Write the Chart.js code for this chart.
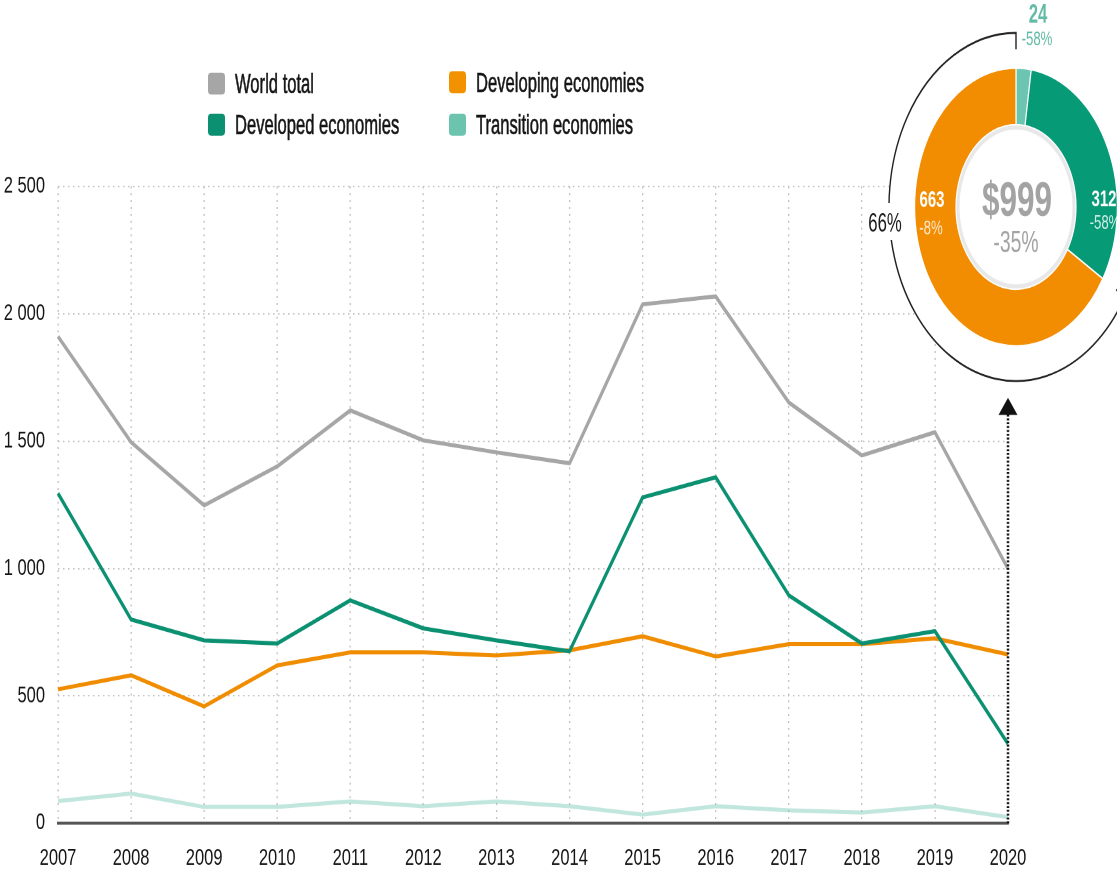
<!DOCTYPE html>
<html>
<head>
<meta charset="utf-8">
<title>FDI flows 2007-2020</title>
<script src="https://cdn.jsdelivr.net/npm/chart.js@4.4.1/dist/chart.umd.min.js"></script>
<style>
    html, body { margin: 0; padding: 0; background: #fff; overflow: hidden; width: 1117px; height: 873px; }
    /* the reference is stretched vertically, so everything is drawn flat and then scaled */
    #stage { position: absolute; left: 0; top: 0; width: 1117px; height: 637px; transform: scaleY(1.3705); transform-origin: 0 0; }
    #main { position: absolute; left: 0; top: 0; }
    #donut { position: absolute; left: 866px; top: 1px; }
    .key { position: absolute; display: flex; align-items: center; font-family: 'Liberation Sans Narrow', 'Arial Narrow', 'Nimbus Sans Narrow', 'Liberation Sans', sans-serif; font-size: 20px; color: #151515; white-space: nowrap; }
    .key span.box { display: inline-block; width: 17px; height: 16px; border-radius: 3px; margin-right: 10px; }
    .key span.txt { display: inline-block; transform: scaleX(0.83); transform-origin: 0 50%; -webkit-text-stroke: 0.45px #151515; }
</style>
</head>
<body>
<div id="stage">
    <canvas id="main" width="1117" height="637"></canvas>
    <canvas id="donut" width="300" height="300"></canvas>
</div>
<script>
const FONT = "'Liberation Sans Narrow', 'Arial Narrow', 'Nimbus Sans Narrow', 'Liberation Sans', sans-serif";

// Data (USD billions)
const years = ['2007', '2008', '2009', '2010', '2011', '2012', '2013', '2014', '2015', '2016', '2017', '2018', '2019', '2020'];
const worldTotal = [1911, 1496, 1248, 1401, 1621, 1503, 1456, 1413, 2037, 2068, 1652, 1444, 1535, 999];
const developed = [1295, 800, 718, 706, 875, 765, 718, 675, 1279, 1358, 895, 706, 754, 312];
const developing = [526, 581, 459, 620, 671, 671, 659, 679, 734, 655, 703, 703, 726, 663];
const transition = [87, 117, 64, 64, 86, 67, 86, 67, 34, 67, 51, 42, 67, 24];
const yTicks = [0, 500, 1000, 1500, 2000, 2500];

// 2020 breakdown shown in the ring
const changeTotal = '-35%';
const changeDeveloped = '-58%';
const changeDeveloping = '-8%';
const changeTransition = '-58%';
const developingShare = '66%';

const seriesNames = ['World total', 'Developed economies', 'Developing economies', 'Transition economies'];
const lineColors = ['#a6a6a6', '#0b9171', '#f08c00', 'rgba(108,196,174,0.42)'];
const keyColors = ['#a6a6a6', '#0b9171', '#f39200', '#6cc4ae'];
const ringColors = ['#6cc5b0', '#079a77', '#f28c00'];

const arrowTipValue = 1670;

// Legend (2 x 2)
const keySlots = [{ left: 208, top: 61 }, { left: 208, top: 91 }, { left: 449, top: 60 }, { left: 449, top: 91 }];
const stage = document.getElementById('stage');
seriesNames.forEach((name, i) => {
    const el = document.createElement('div');
    el.className = 'key';
    el.style.left = keySlots[i].left + 'px';
    el.style.top = (keySlots[i].top - 12) + 'px';
    el.style.height = '24px';
    el.innerHTML = '<span class="box" style="background:' + keyColors[i] + '"></span><span class="txt">' + name + '</span>';
    stage.appendChild(el);
});

function fmt(v) {
    if (v >= 1000) return Math.floor(v / 1000) + ' ' + String(v % 1000).padStart(3, '0');
    return String(v);
}

// condensed text helper for the ring labels
function narrowText(ctx, text, x, y, sx) {
    ctx.save();
    ctx.translate(x, y);
    ctx.scale(sx, 1);
    ctx.fillText(text, 0, 0);
    ctx.restore();
}

// dotted arrow up from 2020 to the ring
const arrowPlugin = {
    id: 'arrow',
    afterDatasetsDraw(chart) {
        const { ctx, scales: { x, y } } = chart;
        const px = x.getPixelForValue(years.length - 1);
        const tip = y.getPixelForValue(arrowTipValue);
        ctx.save();
        ctx.strokeStyle = '#111';
        ctx.lineWidth = 2.5;
        ctx.setLineDash([1.4, 1.4]);
        ctx.beginPath();
        ctx.moveTo(px, y.bottom);
        ctx.lineTo(px, tip + 12);
        ctx.stroke();
        ctx.setLineDash([]);
        ctx.fillStyle = '#111';
        ctx.beginPath();
        ctx.moveTo(px, tip);
        ctx.lineTo(px - 9.5, tip + 12.5);
        ctx.lineTo(px + 9.5, tip + 12.5);
        ctx.closePath();
        ctx.fill();
        ctx.restore();
    }
};

const series = [worldTotal, developed, developing, transition];

new Chart(document.getElementById('main'), {
    type: 'line',
    data: {
        labels: years,
        datasets: series.map((d, i) => ({
            label: seriesNames[i],
            data: d,
            borderColor: lineColors[i],
            borderWidth: 3,
            tension: 0,
            pointRadius: 0,
            borderJoinStyle: 'round',
            fill: false
        }))
    },
    options: {
        responsive: false,
        devicePixelRatio: 2,
        animation: false,
        events: [],
        layout: { padding: { top: 136, right: 109, left: 0, bottom: 0 } },
        plugins: { legend: { display: false }, tooltip: { enabled: false } },
        scales: {
            x: {
                grid: {
                    drawTicks: false,
                    color: c => c.index === years.length - 1 ? 'rgba(0,0,0,0)' : '#c2c2c2',
                    lineWidth: 1.3
                },
                border: { display: true, color: '#555', width: 2.2, dash: [1.5, 3.5] },
                ticks: { font: { family: FONT, size: 16.5 }, color: '#151515', padding: 16, maxRotation: 0 },
                afterFit: s => { s.height = 36.3; }
            },
            y: {
                min: 0,
                max: 2500,
                afterBuildTicks: s => { s.ticks = yTicks.map(v => ({ value: v })); },
                grid: {
                    drawTicks: false,
                    color: c => c.tick.value === 0 ? 'rgba(0,0,0,0)' : '#c2c2c2',
                    lineWidth: 1.1
                },
                border: { display: false, dash: [1.5, 3.5] },
                ticks: { font: { family: FONT, size: 16.5 }, color: '#151515', padding: 13, callback: v => fmt(v) },
                afterFit: s => { s.width = 58; }
            }
        }
    },
    plugins: [arrowPlugin]
});

// Ring for 2020
const last = years.length - 1;
const ringValues = [transition[last], developed[last], developing[last]];

const ringDecor = {
    id: 'ringDecor',
    beforeDatasetsDraw(chart) {
        const ctx = chart.ctx;
        const meta = chart.getDatasetMeta(0);
        const cx = meta.data[0].x, cy = meta.data[0].y;
        const dev = meta.data[2];
        const R = 127;
        ctx.save();
        // white cover so the grid does not show through
        ctx.fillStyle = '#fff';
        ctx.beginPath();
        ctx.arc(cx, cy, R + 1, 0, Math.PI * 2);
        ctx.fill();
        // bracket round the developing share
        ctx.strokeStyle = '#222';
        ctx.lineWidth = 1.4;
        ctx.beginPath();
        ctx.moveTo(cx + (R - 10) * Math.cos(dev.startAngle), cy + (R - 10) * Math.sin(dev.startAngle));
        ctx.lineTo(cx + R * Math.cos(dev.startAngle), cy + R * Math.sin(dev.startAngle));
        ctx.arc(cx, cy, R, dev.startAngle, dev.endAngle, false);
        ctx.lineTo(cx + (R - 12) * Math.cos(dev.endAngle), cy + (R - 12) * Math.sin(dev.endAngle));
        ctx.stroke();
        // share label sitting on the bracket
        ctx.fillStyle = '#fff';
        ctx.fillRect(cx - 148, cy - 3, 34, 27);
        ctx.fillStyle = '#1a1a1a';
        ctx.font = '19px ' + FONT;
        ctx.textAlign = 'center';
        ctx.textBaseline = 'middle';
        narrowText(ctx, developingShare, cx - 131, cy + 13, 0.88);
        ctx.restore();
    },
    afterDatasetsDraw(chart) {
        const ctx = chart.ctx;
        const meta = chart.getDatasetMeta(0);
        const a = meta.data[0];
        const cx = a.x, cy = a.y;
        ctx.save();
        // soft inner ring
        ctx.strokeStyle = 'rgba(0,0,0,0.09)';
        ctx.lineWidth = 3;
        ctx.beginPath();
        ctx.arc(cx, cy, a.innerRadius - 2, 0, Math.PI * 2);
        ctx.stroke();

        ctx.textAlign = 'center';
        ctx.textBaseline = 'middle';
        ctx.fillStyle = '#a3a3a3';
        ctx.font = 'bold 35px ' + FONT;
        narrowText(ctx, '$' + worldTotal[last], cx + 1, cy - 3, 0.9);
        ctx.font = '22px ' + FONT;
        narrowText(ctx, changeTotal, cx, cy + 27, 0.88);

        ctx.fillStyle = '#fff';
        ctx.font = 'bold 17px ' + FONT;
        narrowText(ctx, String(developing[last]), cx - 84, cy - 4.5, 0.88);
        narrowText(ctx, String(developed[last]), cx + 88, cy - 5, 0.88);
        ctx.fillStyle = 'rgba(255,255,255,0.82)';
        ctx.font = '15px ' + FONT;
        narrowText(ctx, changeDeveloping, cx - 85, cy + 16, 0.88);
        narrowText(ctx, changeDeveloped, cx + 89, cy + 12, 0.88);

        ctx.fillStyle = '#63bba5';
        ctx.font = 'bold 19px ' + FONT;
        narrowText(ctx, String(transition[last]), cx + 22, cy - 139.5, 0.88);
        ctx.font = '15px ' + FONT;
        narrowText(ctx, changeTransition, cx + 21, cy - 122.3, 0.88);
        ctx.restore();
    }
};

new Chart(document.getElementById('donut'), {
    type: 'doughnut',
    data: {
        labels: [seriesNames[3], seriesNames[1], seriesNames[2]],
        datasets: [{
            data: ringValues,
            backgroundColor: ringColors,
            borderColor: '#fff',
            borderWidth: 1.2
        }]
    },
    options: {
        responsive: false,
        devicePixelRatio: 2,
        animation: false,
        events: [],
        cutout: 60,
        layout: { padding: 48 },
        plugins: { legend: { display: false }, tooltip: { enabled: false } }
    },
    plugins: [ringDecor]
});
</script>
</body>
</html>
